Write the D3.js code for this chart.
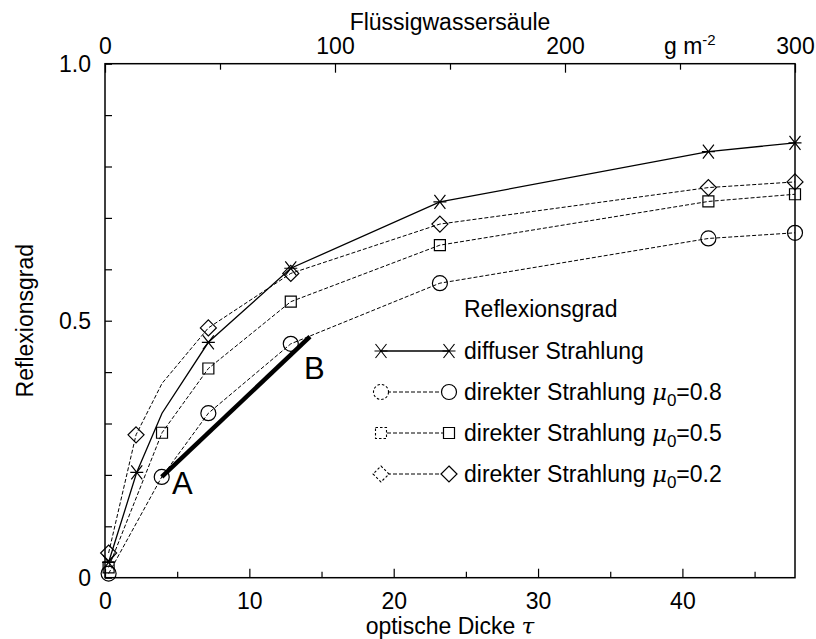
<!DOCTYPE html>
<html>
<head>
<meta charset="utf-8">
<script src="https://cdn.jsdelivr.net/npm/d3@7"></script>
<style>
  body { margin: 0; background: #fff; }
  svg { font-family: "Liberation Sans", Arial, sans-serif; }
  .tick text { font-size: 23px; fill: #000; }
  .tick line { stroke: #000; stroke-width: 1.2; }
</style>
</head>
<body>
<svg id="chart" width="816" height="639"></svg>
<script>
// optical depth (bottom axis) and reflectance for each curve
var tauDiffuse = [0.25, 2.2, 3.95, 7.16, 12.87, 23.2, 41.8, 47.8];
var reflDiffuse = [0.03, 0.205, 0.32, 0.458, 0.602, 0.731, 0.829, 0.846];
var tauMu02 = [0.25, 2.15, 3.95, 7.16, 12.87, 23.2, 41.8, 47.8];
var reflMu02 = [0.048, 0.278, 0.378, 0.486, 0.592, 0.688, 0.759, 0.770];
var tauMu05 = [0.25, 3.95, 7.16, 12.87, 23.2, 41.8, 47.8];
var reflMu05 = [0.02, 0.282, 0.407, 0.537, 0.647, 0.732, 0.746];
var tauMu08 = [0.25, 3.93, 7.16, 12.87, 23.2, 41.8, 47.8];
var reflMu08 = [0.008, 0.196, 0.32, 0.455, 0.573, 0.66, 0.671];

// the thick A-B segment
var abTau = [3.93, 14.2];
var abRefl = [0.196, 0.469];

var tauTicks = [0, 10, 20, 30, 40];
var tauMinor = [5, 15, 25, 35, 45];
var lwpTicks = [0, 100, 200, 300];
var lwpMinor = [50, 150, 250];
var reflTicks = [0, 0.1, 0.2, 0.3, 0.4, 0.5, 0.6, 0.7, 0.8, 0.9, 1.0];
var reflLabels = {0: "0", 0.5: "0.5", 1: "1.0"};

var legendNames = ["diffuser Strahlung", "direkter Strahlung", "direkter Strahlung", "direkter Strahlung"];
var legendMu = [null, "0.8", "0.5", "0.2"];

var pLeft = 105, pRight = 795, pTop = 63.7, pBottom = 577.7;

var x = d3.scaleLinear().domain([0, 47.8]).range([pLeft, pRight]);
var xTop = d3.scaleLinear().domain([0, 300]).range([pLeft, pRight]);
var y = d3.scaleLinear().domain([0, 1]).range([pBottom, pTop]);

var svg = d3.select("#chart");

// frame
svg.append("rect")
  .attr("x", pLeft).attr("y", pTop)
  .attr("width", pRight - pLeft).attr("height", pBottom - pTop)
  .attr("fill", "none").attr("stroke", "#000").attr("stroke-width", 1.5);

// bottom axis
var gb = svg.append("g").attr("transform", "translate(0," + pBottom + ")")
  .call(d3.axisBottom(x).tickValues(tauTicks).tickSizeInner(-9).tickSizeOuter(0).tickPadding(15));
gb.select(".domain").remove();
svg.append("g").attr("transform", "translate(0," + pBottom + ")")
  .call(d3.axisBottom(x).tickValues(tauMinor).tickSizeInner(-6).tickSizeOuter(0).tickFormat(""))
  .select(".domain").remove();

// top axis
var gt = svg.append("g").attr("transform", "translate(0," + pTop + ")")
  .call(d3.axisTop(xTop).tickValues(lwpTicks).tickSizeInner(-9).tickSizeOuter(0).tickPadding(10));
gt.select(".domain").remove();
svg.append("g").attr("transform", "translate(0," + pTop + ")")
  .call(d3.axisTop(xTop).tickValues(lwpMinor).tickSizeInner(-6).tickSizeOuter(0).tickFormat(""))
  .select(".domain").remove();

// left axis
var gl = svg.append("g").attr("transform", "translate(" + pLeft + ",0)")
  .call(d3.axisLeft(y).tickValues(reflTicks).tickSizeInner(-7).tickSizeOuter(0).tickPadding(14)
    .tickFormat(function(d){ return reflLabels[Math.round(d * 10) / 10] || ""; }));
gl.select(".domain").remove();

// axis titles
svg.append("text")
  .attr("x", (pLeft + pRight) / 2).attr("y", 30)
  .attr("text-anchor", "middle").style("font-size", "23px")
  .text("Flüssigwassersäule");

var unit = svg.append("text")
  .attr("x", 664).attr("y", 54)
  .style("font-size", "23px");
unit.append("tspan").text("g m");
unit.append("tspan").attr("dy", -9).style("font-size", "15px").text("-2");

var xt = svg.append("text")
  .attr("x", (pLeft + pRight) / 2).attr("y", 634)
  .attr("text-anchor", "middle").style("font-size", "23px");
xt.append("tspan").text("optische Dicke ");
xt.append("tspan").style("font-style", "italic").style("font-family", "'DejaVu Serif', serif").text("τ");

svg.append("text")
  .attr("transform", "translate(33," + (pTop + pBottom) / 2 + ") rotate(-90)")
  .attr("text-anchor", "middle").style("font-size", "23px")
  .text("Reflexionsgrad");

// marker shapes
function markerPath(kind) {
  if (kind == "star") return "M-5.5,-7L5.5,7M-5.5,7L5.5,-7M-6.5,0H6.5";
  if (kind == "square") return "M-5.5,-5.5H5.5V5.5H-5.5Z";
  if (kind == "diamond") return "M0,-8L8,0L0,8L-8,0Z";
  return d3.symbol().type(d3.symbolCircle).size(Math.PI * 7.5 * 7.5)();
}

var series = [
  {tau: tauDiffuse, refl: reflDiffuse, marker: "star", dashed: false, bare: [2]},
  {tau: tauMu08, refl: reflMu08, marker: "circle", dashed: true, bare: []},
  {tau: tauMu05, refl: reflMu05, marker: "square", dashed: true, bare: []},
  {tau: tauMu02, refl: reflMu02, marker: "diamond", dashed: true, bare: [2]}
];

var line = d3.line()
  .x(function(d){ return x(d[0]); })
  .y(function(d){ return y(d[1]); });

series.forEach(function(s) {
  var pts = s.tau.map(function(t, i){ return [t, s.refl[i]]; });
  svg.append("path")
    .attr("d", line(pts))
    .attr("fill", "none").attr("stroke", "#000")
    .attr("stroke-width", s.dashed ? 1 : 1.3)
    .attr("stroke-dasharray", s.dashed ? "4,2" : null);
  svg.selectAll(null)
    .data(pts.filter(function(p, i){ return s.bare.indexOf(i) < 0; }))
    .enter().append("path")
    .attr("transform", function(d){ return "translate(" + x(d[0]) + "," + y(d[1]) + ")"; })
    .attr("d", markerPath(s.marker))
    .attr("fill", "none").attr("stroke", "#000").attr("stroke-width", 1.2);
});

// A-B segment
svg.append("path")
  .attr("d", line(abTau.map(function(t, i){ return [t, abRefl[i]]; })))
  .attr("stroke", "#000").attr("stroke-width", 4.5).attr("fill", "none");
svg.append("text").attr("x", 172).attr("y", 494).style("font-size", "31px").text("A");
svg.append("text").attr("x", 304).attr("y", 379).style("font-size", "31px").text("B");

// legend
var lx0 = 381, lx1 = 449, ltx = 464;
svg.append("text").attr("x", ltx).attr("y", 317).style("font-size", "23px").text("Reflexionsgrad");

series.forEach(function(s, i) {
  var ly = 351 + i * 41;
  svg.append("line")
    .attr("x1", lx0).attr("x2", lx1).attr("y1", ly).attr("y2", ly)
    .attr("stroke", "#000").attr("stroke-width", s.dashed ? 1 : 1.3)
    .attr("stroke-dasharray", s.dashed ? "4,2" : null);
  svg.append("path")
    .attr("transform", "translate(" + lx0 + "," + ly + ")")
    .attr("d", markerPath(s.marker))
    .attr("fill", "#fff").attr("stroke", "#000").attr("stroke-width", 1.1)
    .attr("stroke-dasharray", s.marker == "star" ? null : "2.5,2");
  svg.append("path")
    .attr("transform", "translate(" + lx1 + "," + ly + ")")
    .attr("d", markerPath(s.marker))
    .attr("fill", s.marker == "star" ? "none" : "#fff").attr("stroke", "#000").attr("stroke-width", 1.2);
  var t = svg.append("text").attr("x", ltx).attr("y", ly + 8).style("font-size", "23px");
  t.append("tspan").text(legendNames[i] + (legendMu[i] ? " " : ""));
  if (legendMu[i]) {
    t.append("tspan").style("font-style", "italic").style("font-family", "'DejaVu Serif', serif").text("μ");
    t.append("tspan").attr("dy", 6).style("font-size", "17px").text("0");
    t.append("tspan").attr("dy", -6).text("=" + legendMu[i]);
  }
});
</script>
</body>
</html>
